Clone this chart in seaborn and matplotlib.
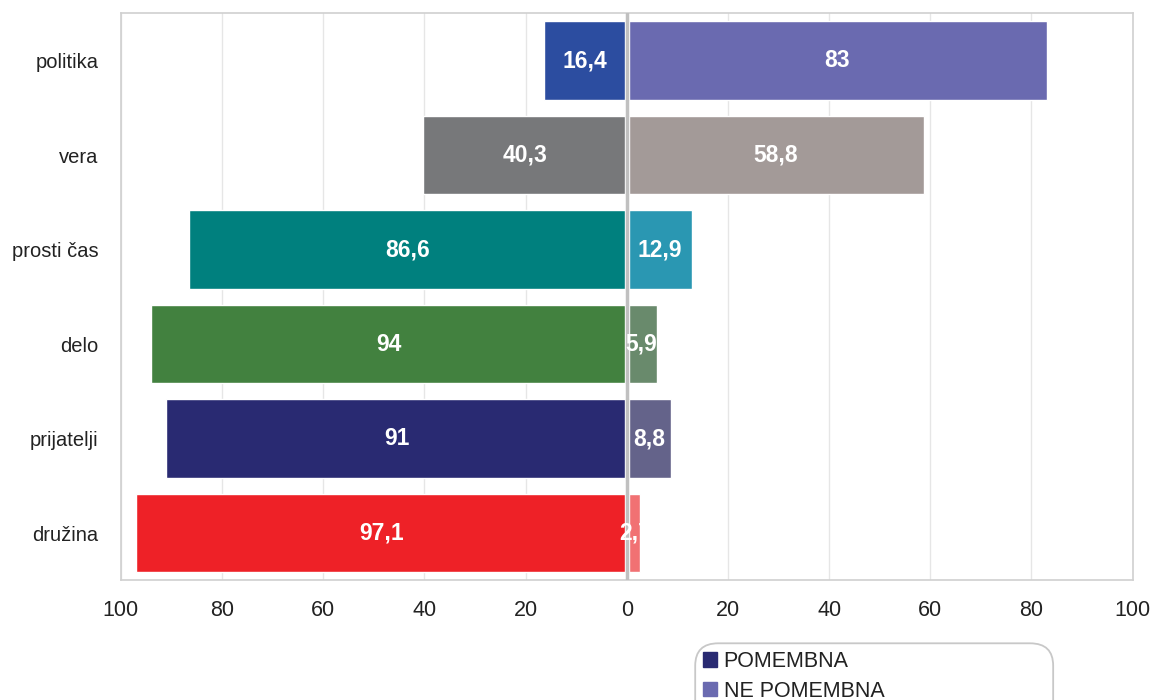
import numpy as np
import pandas as pd
import matplotlib.pyplot as plt
import seaborn as sns
from matplotlib.patches import Patch, FancyBboxPatch

# DATA
categories = ["politika", "vera", "prosti čas", "delo", "prijatelji", "družina"]
pomembna = [16.4, 40.3, 86.6, 94, 91, 97.1]
ne_pomembna = [83, 58.8, 12.9, 5.9, 8.8, 2.7]
labels_pom = ["16,4", "40,3", "86,6", "94", "91", "97,1"]
labels_ne = ["83", "58,8", "12,9", "5,9", "8,8", "2,7"]
colors_pom = ["#2c4da0", "#77787a", "#00807e", "#42813f", "#292a72", "#ee2127"]
colors_ne = ["#6a6ab0", "#a39a98", "#2a97b2", "#698a6c", "#64638a", "#f17173"]
ticks = [-100, -80, -60, -40, -20, 0, 20, 40, 60, 80, 100]

sns.set_theme(style="white")
plt.rcParams['font.family'] = ['Liberation Sans', 'DejaVu Sans']

df = pd.DataFrame({"cat": categories,
                   "pom": [-v for v in pomembna],
                   "ne": ne_pomembna})

fig = plt.figure(figsize=(11.51, 7), dpi=100)
ax = fig.add_axes([0.105, 0.171, 0.879, 0.81])

# vertical grid
for t in ticks:
    ax.axvline(t, color="#e6e6e6", lw=1, zorder=0)

sns.barplot(data=df, y="cat", x="pom", hue="cat", palette=colors_pom,
            orient="h", width=0.83, saturation=1, legend=False, ax=ax, zorder=2)
sns.barplot(data=df, y="cat", x="ne", hue="cat", palette=colors_ne,
            orient="h", width=0.83, saturation=1, legend=False, ax=ax, zorder=2)

# small gap around the centre line
for p in ax.patches:
    w = p.get_width()
    if w < 0:
        p.set_x(-0.4)
        p.set_width(w + 0.4)
    elif w > 0:
        p.set_x(0.4)
        p.set_width(w - 0.4)

ax.axvline(0, color="#c0c0c0", lw=2.5, zorder=3)

for i in range(len(categories)):
    ax.text(-pomembna[i] / 2, i, labels_pom[i], ha="center", va="center",
            color="white", fontsize=16.5, fontweight="bold", zorder=4)
    ax.text(ne_pomembna[i] / 2 if ne_pomembna[i] > 5 else 0.4 + ne_pomembna[i] / 2,
            i, labels_ne[i], ha="center", va="center",
            color="white", fontsize=16.5, fontweight="bold", zorder=4)

ax.set_xlim(-100, 100)
ax.set_ylim(len(categories) - 0.5, -0.5)
ax.set_xticks(ticks)
ax.set_xticklabels([str(abs(t)) for t in ticks], fontsize=15.5, color="#222222")
ax.set_yticks(range(len(categories)))
ax.set_yticklabels(categories, fontsize=14.5, color="#222222")
ax.tick_params(axis="y", pad=16, length=0)
ax.tick_params(axis="x", pad=14, length=0)
ax.set_xlabel("")
ax.set_ylabel("")
for s in ax.spines.values():
    s.set_color("#d0d0d0")
    s.set_linewidth(1.2)

# rounded legend box (cut off at the bottom edge)
box = FancyBboxPatch((0.604, -0.06), 0.311, 0.141, transform=fig.transFigure,
                     boxstyle="round,pad=0,rounding_size=0.02",
                     facecolor="white", edgecolor="#c8c8c8", lw=1.3,
                     mutation_aspect=1.6)
fig.patches.append(box)

handles = [Patch(color="#292a72", label="POMEMBNA"),
           Patch(color="#6a6ab0", label="NE POMEMBNA")]
leg = fig.legend(handles=handles, loc="upper left", bbox_to_anchor=(0.611, 0.070),
                 fontsize=15.5, frameon=False, handlelength=0.65,
                 handleheight=0.65, handletextpad=0.3, labelspacing=0.4,
                 borderpad=0, borderaxespad=0, labelcolor="#222222")

fig.savefig("out.png", dpi=100)
